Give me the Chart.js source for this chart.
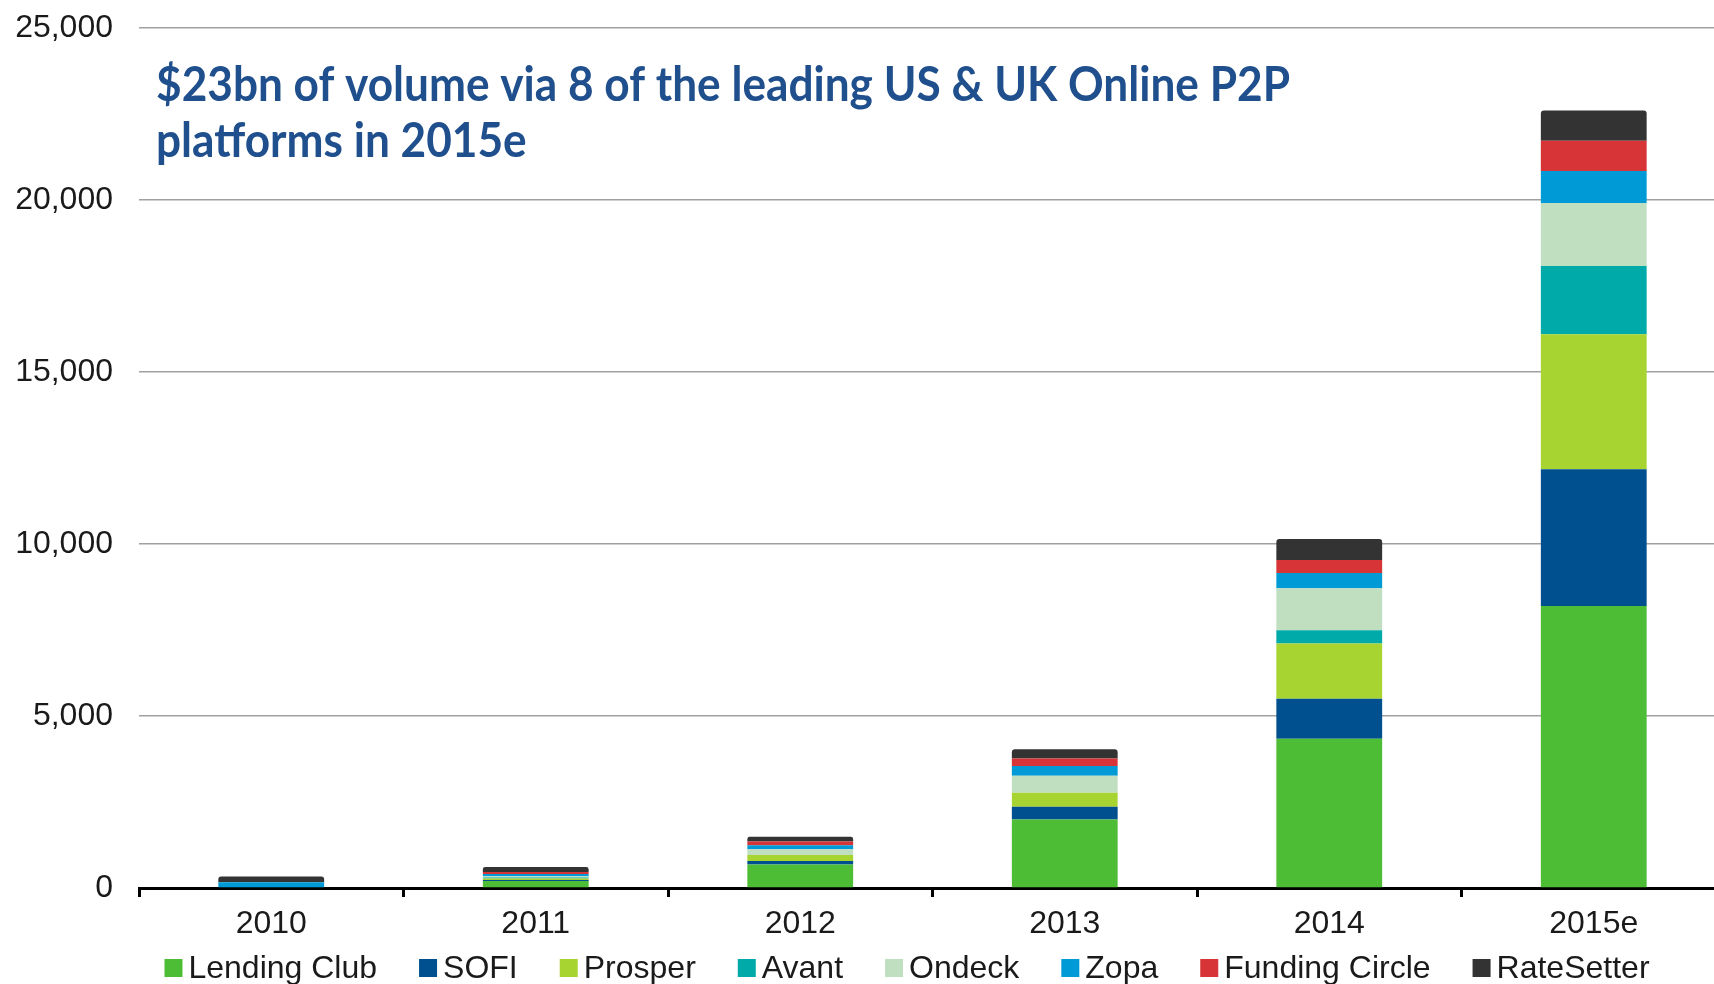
<!DOCTYPE html>
<html>
<head>
<meta charset="utf-8">
<script src="https://cdn.jsdelivr.net/npm/chart.js@4.4.1/dist/chart.umd.min.js"></script>
<style>
  html, body { margin: 0; padding: 0; background: #ffffff; overflow: hidden; }
  #wrap { position: absolute; left: 0; top: 0; width: 1726px; height: 984px; }
</style>
</head>
<body>
<div id="wrap"><canvas id="c"></canvas></div>
<script>
// ---- data ----
const years = ['2010', '2011', '2012', '2013', '2014', '2015e'];
const seriesNames = ['Lending Club', 'SOFI', 'Prosper', 'Avant', 'Ondeck', 'Zopa', 'Funding Circle', 'RateSetter'];
const lendingClub   = [0,   200, 680, 1990, 4340, 8200];
const sofi          = [0,   35,  107, 370,  1165, 3970];
const prosper       = [0,   40,  175, 410,  1600, 3930];
const avant         = [0,   30,  0,   0,    390,  1980];
const ondeck        = [0,   40,  165, 490,  1220, 1830];
const zopa          = [170, 60,  117, 290,  440,  930];
const fundingCircle = [0,   60,  107, 215,  380,  880];
const rateSetter    = [165, 145, 136, 270,  610,  880];
const yTickValues = [0, 5000, 10000, 15000, 20000, 25000];
const titleLines = ['$23bn of volume via 8 of the leading US & UK Online P2P', 'platforms in 2015e'];

const seriesValues = [lendingClub, sofi, prosper, avant, ondeck, zopa, fundingCircle, rateSetter];
const seriesColors = ['#4dbd36', '#00508f', '#a8d431', '#00aaa8', '#c0dfc1', '#009ad6', '#d73438', '#333333'];

const FONT = '"Liberation Sans", Arial, sans-serif';

const datasets = seriesNames.map((name, i) => ({
  label: name,
  data: seriesValues[i],
  backgroundColor: seriesColors[i],
  borderWidth: 0,
  borderSkipped: false,
  borderRadius: i === seriesNames.length - 1 ? { topLeft: 3, topRight: 3, bottomLeft: 0, bottomRight: 0 } : 0,
  categoryPercentage: 1.0,
  barPercentage: 0.4
}));

const titlePlugin = {
  id: 'titleText',
  afterDatasetsDraw(chart) {
    const ctx = chart.ctx;
    ctx.save();
    ctx.font = 'bold 47px Lato, "Open Sans", sans-serif';
    ctx.fillStyle = '#1f4f8c';
    ctx.textBaseline = 'alphabetic';
    ctx.textAlign = 'left';
    const w = ctx.measureText(titleLines[0]).width;
    const sx = 1134 / w;
    ctx.translate(156, 0);
    ctx.scale(sx, 1);
    ctx.fillText(titleLines[0], 0, 101);
    ctx.fillText(titleLines[1], 0, 157);
    ctx.restore();
  }
};

const legendPlugin = {
  id: 'customLegend',
  afterDraw(chart) {
    const ctx = chart.ctx;
    ctx.save();
    ctx.font = '32px ' + FONT;
    const box = 18, gapText = 6, gapItem = 42;
    const widths = chart.data.datasets.map(d => ctx.measureText(d.label).width);
    let total = 0;
    widths.forEach((w, i) => { total += box + gapText + w + (i < widths.length - 1 ? gapItem : 0); });
    let x = 907 - total / 2;
    const cy = 968;
    ctx.textBaseline = 'middle';
    ctx.textAlign = 'left';
    chart.data.datasets.forEach((d, i) => {
      ctx.fillStyle = d.backgroundColor;
      ctx.fillRect(x, cy - box / 2, box, box);
      ctx.fillStyle = '#1a1a1a';
      ctx.fillText(d.label, x + box + gapText, cy + 1);
      x += box + gapText + widths[i] + gapItem;
    });
    ctx.restore();
  }
};

new Chart(document.getElementById('c'), {
  type: 'bar',
  data: { labels: years, datasets: datasets },
  plugins: [titlePlugin, legendPlugin],
  options: {
    responsive: true,
    maintainAspectRatio: false,
    animation: false,
    devicePixelRatio: 1,
    layout: { padding: { top: 28, bottom: 46, left: 0, right: 0 } },
    plugins: {
      legend: { display: false },
      tooltip: { enabled: false },
      title: { display: false }
    },
    scales: {
      x: {
        stacked: true,
        offset: true,
        grid: {
          display: true,
          offset: true,
          drawOnChartArea: false,
          drawTicks: true,
          tickLength: 9,
          color: '#000000',
          lineWidth: 3
        },
        border: { display: true, color: '#000000', width: 3 },
        ticks: {
          color: '#1a1a1a',
          font: { family: FONT, size: 32 },
          padding: 8,
          maxRotation: 0
        },
        afterFit(axis) { axis.height = 50; axis.paddingLeft = 0; axis.paddingRight = 0; }
      },
      y: {
        stacked: true,
        min: 0,
        max: 25000,
        afterBuildTicks(axis) { axis.ticks = yTickValues.map(v => ({ value: v })); },
        grid: {
          color: '#a0a0a0',
          lineWidth: 1.5,
          drawTicks: false
        },
        border: { display: false },
        ticks: {
          color: '#1a1a1a',
          font: { family: FONT, size: 32 },
          padding: 26,
          callback: (v) => Number(v).toLocaleString('en-US')
        },
        afterFit(axis) { axis.width = 139; axis.paddingTop = 0; axis.paddingBottom = 0; }
      }
    }
  }
});
</script>
</body>
</html>
